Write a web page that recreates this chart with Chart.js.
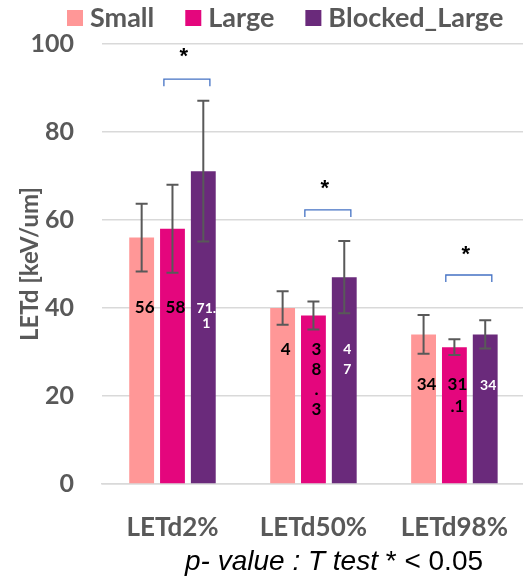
<!DOCTYPE html>
<html>
<head>
<meta charset="utf-8">
<script src="https://cdn.jsdelivr.net/npm/chart.js@4.4.1/dist/chart.umd.min.js"></script>
<style>
html,body{margin:0;padding:0;background:#fff;overflow:hidden;}
#wrap{width:523px;height:576px;overflow:hidden;position:relative;}
</style>
</head>
<body>
<div id="wrap"><canvas id="c" width="528" height="576"></canvas></div>
<script>
// ---- data ----
const categories = ["LETd2%", "LETd50%", "LETd98%"];
const seriesNames = ["Small", "Large", "Blocked_Large"];
const smallValues = [56, 40, 34];
const largeValues = [58, 38.3, 31.1];
const blockedValues = [71.1, 47, 34];
const smallErr = [7.7, 3.8, 4.4];
const largeErr = [10, 3.2, 1.8];
const blockedErr = [16, 8.2, 3.2];
const smallLabelLines = [["56"], ["4"], ["34"]];
const largeLabelLines = [["58"], ["3", "8", ".", "3"], ["31", ".1"]];
const blockedLabelLines = [["71.", "1"], ["4", "7"], ["34"]];
const yTicks = [0, 20, 40, 60, 80, 100];
const sigBracketValue = [92, 62.3, 47.5];
const sigStarValue = [98, 68, 53];
const footnoteItalic = "p- value : T test";
const footnoteRegular = " * < 0.05";

const colors = ["#FF9797", "#E4067D", "#6A2A7B"];
const labelColors = ["#000000", "#000000", "#FFFFFF"];
const labelFontSizes = [17, 17, 14];
const labelAnchorValue = [40, 30.5, 22.5];
const labelLineHeights = [[15, 20, 22], [15, 20, 22], [15, 20, 22]];

const errors = [smallErr, largeErr, blockedErr];
const labelLines = [smallLabelLines, largeLabelLines, blockedLabelLines];

const extras = {
  id: 'extras',
  afterDatasetsDraw(chart) {
    const ctx = chart.ctx;
    const y = chart.scales.y;
    // error bars
    ctx.save();
    ctx.strokeStyle = '#595959';
    ctx.lineWidth = 2;
    chart.data.datasets.forEach((ds, di) => {
      const meta = chart.getDatasetMeta(di);
      meta.data.forEach((bar, i) => {
        const v = ds.data[i], e = errors[di][i];
        const yt = y.getPixelForValue(v + e), yb = y.getPixelForValue(v - e);
        ctx.beginPath();
        ctx.moveTo(bar.x, yt); ctx.lineTo(bar.x, yb);
        ctx.moveTo(bar.x - 6, yt); ctx.lineTo(bar.x + 6, yt);
        ctx.moveTo(bar.x - 6, yb); ctx.lineTo(bar.x + 6, yb);
        ctx.stroke();
      });
    });
    ctx.restore();
    // data labels
    ctx.save();
    ctx.textAlign = 'center';
    ctx.textBaseline = 'middle';
    chart.data.datasets.forEach((ds, di) => {
      const meta = chart.getDatasetMeta(di);
      ctx.fillStyle = labelColors[di];
      ctx.font = 'bold ' + labelFontSizes[di] + 'px Lato';
      meta.data.forEach((bar, i) => {
        const lines = labelLines[di][i];
        const y0 = y.getPixelForValue(labelAnchorValue[i]);
        const lh = labelLineHeights[di][i];
        lines.forEach((t, k) => ctx.fillText(t, bar.x + 3, y0 + k * lh));
      });
    });
    ctx.restore();
    // significance brackets
    ctx.save();
    const mL = chart.getDatasetMeta(1), mB = chart.getDatasetMeta(2);
    categories.forEach((c, i) => {
      const mid = (mL.data[i].x + mB.data[i].x) / 2 - 1;
      const by = y.getPixelForValue(sigBracketValue[i]);
      ctx.strokeStyle = '#4472C4';
      ctx.lineWidth = 1.3;
      ctx.beginPath();
      ctx.moveTo(mid - 23, by + 7);
      ctx.lineTo(mid - 23, by);
      ctx.lineTo(mid + 23, by);
      ctx.lineTo(mid + 23, by + 7);
      ctx.stroke();
      ctx.fillStyle = '#000';
      ctx.font = 'bold 22px "Liberation Sans"';
      ctx.textAlign = 'center';
      ctx.textBaseline = 'middle';
      ctx.fillText('*', mid - 3, y.getPixelForValue(sigStarValue[i]) + 4);
    });
    ctx.restore();
  },
  afterDraw(chart) {
    const ctx = chart.ctx;
    // legend
    ctx.save();
    ctx.font = 'bold 27px Lato';
    ctx.textBaseline = 'middle';
    let x = 67;
    chart.data.datasets.forEach((ds, di) => {
      ctx.fillStyle = ds.backgroundColor;
      ctx.fillRect(x, 10, 16, 16);
      x += 23;
      ctx.fillStyle = '#595959';
      ctx.fillText(ds.label, x, 18);
      x += ctx.measureText(ds.label).width + 31;
    });
    // footnote
    ctx.fillStyle = '#000';
    ctx.textBaseline = 'alphabetic';
    ctx.font = 'italic 28px "Liberation Sans"';
    let fx = 185;
    ctx.fillText(footnoteItalic, fx, 570);
    fx += ctx.measureText(footnoteItalic).width;
    ctx.font = '28px "Liberation Sans"';
    ctx.fillText(footnoteRegular, fx, 570);
    ctx.restore();
  }
};

new Chart(document.getElementById('c'), {
  type: 'bar',
  data: {
    labels: categories,
    datasets: [
      { label: seriesNames[0], data: smallValues, backgroundColor: colors[0] },
      { label: seriesNames[1], data: largeValues, backgroundColor: colors[1] },
      { label: seriesNames[2], data: blockedValues, backgroundColor: colors[2] }
    ]
  },
  options: {
    responsive: false,
    animation: false,
    events: [],
    categoryPercentage: 0.656,
    barPercentage: 0.806,
    layout: { padding: { top: 44, left: 0, right: 0, bottom: 0 } },
    plugins: { legend: { display: false }, tooltip: { enabled: false } },
    scales: {
      x: {
        grid: { display: false },
        border: { color: '#D9D9D9', width: 1.5 },
        ticks: { font: { family: 'Lato', weight: 'bold', size: 26 }, color: '#595959', padding: 20 },
        afterFit(s) { s.height = 92; }
      },
      y: {
        min: 0, max: 100,
        afterBuildTicks(s) { s.ticks = yTicks.map(v => ({ value: v })); },
        ticks: { font: { family: 'Lato', weight: 'bold', size: 25 }, color: '#595959', padding: 28 },
        grid: { color: '#D9D9D9', lineWidth: 1.5, drawTicks: false },
        border: { display: false },
        title: { display: true, text: 'LETd [keV/um]', font: { family: 'Lato', weight: 'bold', size: 24 }, color: '#595959', padding: { top: 16, bottom: 0 } },
        afterFit(s) { s.width = 102; }
      }
    }
  },
  plugins: [extras]
});
</script>
</body>
</html>
